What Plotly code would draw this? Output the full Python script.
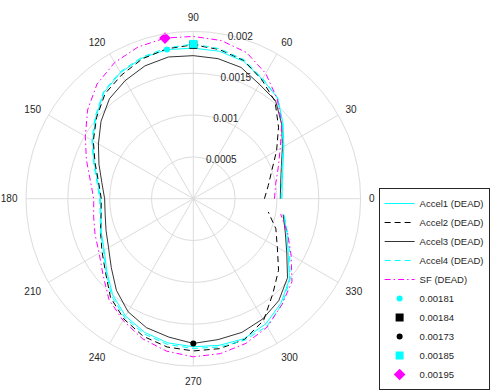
import numpy as np
import plotly.graph_objects as go

# angles (degrees)
theta = list(range(0, 360, 10))

accel1 = [0.00106, 0.00108, 0.00114, 0.00125, 0.00140, 0.00157, 0.00165, 0.00175, 0.00179, 0.00180,
          0.00181, 0.00179, 0.00174, 0.00166, 0.00152, 0.00139, 0.00126, 0.00116, 0.00111, 0.00112,
          0.00117, 0.00123, 0.00135, 0.00150, 0.00162, 0.00170, 0.00175, 0.00177, 0.00178, 0.00178,
          0.00173, 0.00163, 0.00150, 0.00131, 0.00119, 0.00110]
accel2 = [0.00085, 0.00091, 0.00100, 0.00115, 0.00133, 0.00152, 0.00164, 0.00176, 0.00181, 0.00184,
          0.00182, 0.00178, 0.00171, 0.00164, 0.00151, 0.00138, 0.00125, 0.00115, 0.00110, 0.00112,
          0.00118, 0.00126, 0.00137, 0.00154, 0.00166, 0.00175, 0.00180, 0.00182, 0.00182, 0.00179,
          0.00168, 0.00148, 0.00133, 0.00116, 0.00105, 0.00091]
accel3 = [0.00104, 0.00106, 0.00112, 0.00123, 0.00138, 0.00153, 0.00158, 0.00167, 0.00170, 0.00171,
          0.00172, 0.00169, 0.00163, 0.00156, 0.00144, 0.00131, 0.00120, 0.00111, 0.00106, 0.00107,
          0.00111, 0.00117, 0.00128, 0.00143, 0.00156, 0.00164, 0.00168, 0.00173, 0.00171, 0.00170,
          0.00166, 0.00159, 0.00147, 0.00129, 0.00117, 0.00109]
accel4 = [0.00105, 0.00107, 0.00113, 0.00124, 0.00139, 0.00157, 0.00166, 0.00177, 0.00182, 0.00185,
          0.00183, 0.00180, 0.00175, 0.00167, 0.00153, 0.00140, 0.00127, 0.00117, 0.00112, 0.00113,
          0.00118, 0.00124, 0.00136, 0.00152, 0.00164, 0.00172, 0.00177, 0.00179, 0.00180, 0.00180,
          0.00176, 0.00165, 0.00151, 0.00133, 0.00120, 0.00110]
sf = [0.00097, 0.00100, 0.00108, 0.00120, 0.00138, 0.00156, 0.00173, 0.00186, 0.00192, 0.00194,
      0.00195, 0.00193, 0.00188, 0.00179, 0.00165, 0.00149, 0.00136, 0.00125, 0.00119, 0.00121,
      0.00125, 0.00130, 0.00141, 0.00157, 0.00168, 0.00178, 0.00185, 0.00189, 0.00188, 0.00184,
      0.00177, 0.00165, 0.00154, 0.00135, 0.00120, 0.00106]

series_names = ["Accel1 (DEAD)", "Accel2 (DEAD)", "Accel3 (DEAD)", "Accel4 (DEAD)", "SF (DEAD)"]
angle_ticks = [0, 30, 60, 90, 120, 150, 180, 210, 240, 270, 300, 330]
radial_ticks = [0.0005, 0.001, 0.0015, 0.002]
radial_labels = ["0.0005", "0.001", "0.0015", "0.002"]

series = [accel1, accel2, accel3, accel4, sf]
line_styles = [
    dict(color="#00FFFF", width=1, dash="solid"),
    dict(color="#000000", width=1, dash="6px,4px"),
    dict(color="#000000", width=0.8, dash="solid"),
    dict(color="#00FFFF", width=1, dash="6px,4px"),
    dict(color="#FF00FF", width=1, dash="6px,3px,1.5px,3px"),
]
marker_styles = [
    dict(symbol="circle", color="#00FFFF", size=6),
    dict(symbol="square", color="#000000", size=8),
    dict(symbol="circle", color="#000000", size=6),
    dict(symbol="square", color="#00FFFF", size=8),
    dict(symbol="diamond", color="#FF00FF", size=9),
]

fig = go.Figure()
for name, vals, ls in zip(series_names, series, line_styles):
    fig.add_trace(go.Scatterpolar(r=vals, theta=theta, mode="lines", name=name, line=ls))

for vals, ms in zip(series, marker_styles):
    i = int(np.argmax(vals))
    fig.add_trace(go.Scatterpolar(r=[vals[i]], theta=[theta[i]], mode="markers",
                                  name=f"{vals[i]:.5f}", marker=dict(line=dict(width=0), **ms)))

grid = "#DCDCDC"
fig.update_layout(
    width=493, height=390,
    margin=dict(l=0, r=0, t=0, b=0),
    paper_bgcolor="white",
    font=dict(family="Liberation Sans, Arial, sans-serif", size=10, color="#262626"),
    polar=dict(
        domain=dict(x=[0.0527, 0.7315], y=[0.0615, 0.9195]),
        bgcolor="white",
        radialaxis=dict(range=[0, 0.002], tickmode="array", tickvals=radial_ticks,
                        ticktext=radial_labels, angle=80, tickangle=80, showline=False,
                        ticks="", gridcolor=grid, gridwidth=1,
                        tickfont=dict(size=10, color="#262626")),
        angularaxis=dict(tickmode="array", tickvals=angle_ticks,
                         ticktext=[str(a) for a in angle_ticks], direction="counterclockwise",
                         rotation=0, gridcolor=grid, gridwidth=1, showline=True,
                         linecolor=grid, linewidth=1, ticks="outside", ticklen=6,
                         tickcolor="rgba(0,0,0,0)",
                         tickfont=dict(size=10, color="#262626")),
    ),
    legend=dict(x=0.768, xanchor="left", y=0.0, yanchor="bottom",
                bordercolor="#262626", borderwidth=1, bgcolor="white",
                font=dict(size=9.5, color="#262626"), tracegroupgap=0),
    showlegend=True,
)

fig.write_html("out.html")
